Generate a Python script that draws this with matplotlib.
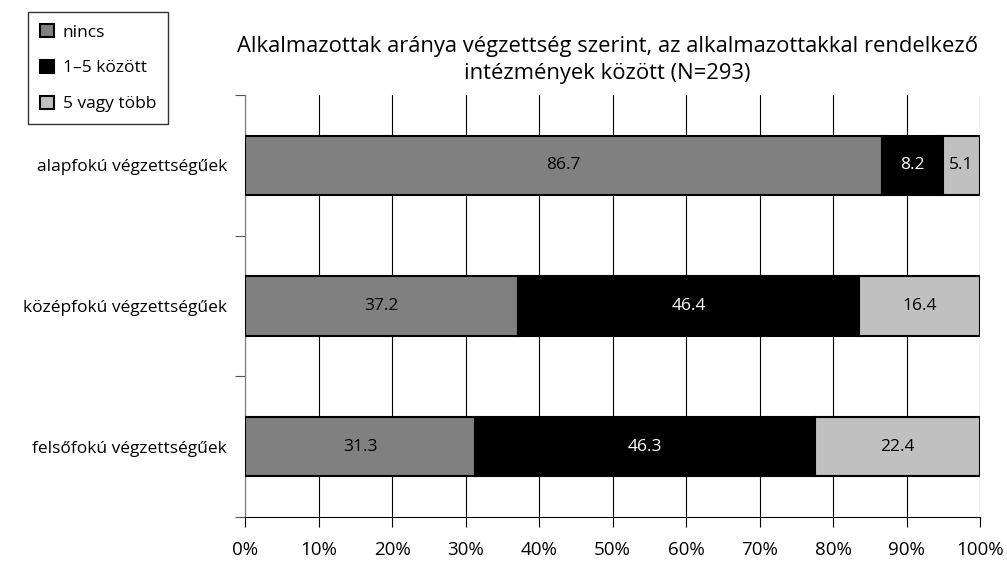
import numpy as np
import matplotlib.pyplot as plt
from matplotlib.patches import Patch

plt.rcParams['font.family'] = ['Open Sans', 'DejaVu Sans']

categories = ['alapfokú végzettségűek', 'középfokú végzettségűek', 'felsőfokú végzettségűek']
series_names = ['nincs', '1–5 között', '5 vagy több']
nincs = [86.7, 37.2, 31.3]
egy_ot = [8.2, 46.4, 46.3]
ot_tobb = [5.1, 16.4, 22.4]
xticklabels = ['0%', '10%', '20%', '30%', '40%', '50%', '60%', '70%', '80%', '90%', '100%']

colors = ['#808080', '#000000', '#c0c0c0']
text_colors = ['black', 'white', 'black']

fig = plt.figure(figsize=(10.07, 5.65), dpi=100)
ax = fig.add_axes([0.2433, 0.085, 0.7299, 0.7469])

y = np.arange(len(categories))
left = np.zeros(len(categories))
for vals, c, tc in zip([nincs, egy_ot, ot_tobb], colors, text_colors):
    bars = ax.barh(y, vals, left=left, height=0.42, color=c, edgecolor='black', linewidth=1.5, zorder=3)
    for b, v in zip(bars, vals):
        ax.text(b.get_x() + b.get_width() / 2, b.get_y() + b.get_height() / 2, f'{v:.1f}',
                ha='center', va='center', color=tc, fontsize=12.5, zorder=4)
    left += np.array(vals)

ax.set_xlim(0, 100)
ax.set_ylim(len(categories) - 0.5, -0.5)
ax.set_xticks(np.arange(0, 101, 10))
ax.set_xticklabels(xticklabels, fontsize=13.5)
ax.tick_params(axis='x', length=7, width=0.8, pad=10, direction='out')
ax.set_yticks(y)
ax.set_yticklabels(categories, fontsize=12.5)
ax.tick_params(axis='y', which='major', length=0, pad=13)
ax.set_yticks(np.arange(-0.5, len(categories), 1), minor=True)
ax.tick_params(axis='y', which='minor', length=7, width=0.8, color='#555555')
ax.grid(axis='x', color='black', linewidth=0.8, zorder=0)
for s in ['top', 'right']:
    ax.spines[s].set_visible(False)
ax.spines['left'].set_color('#777777')
ax.spines['left'].set_linewidth(0.8)
ax.spines['bottom'].set_linewidth(0.8)

fig.text(0.603, 0.894, 'Alkalmazottak aránya végzettség szerint, az alkalmazottakkal rendelkező\nintézmények között (N=293)',
         ha='center', va='center', fontsize=15.8, linespacing=1.4)

handles = [Patch(facecolor=c, edgecolor='black', linewidth=1.5) for c in colors]
leg = fig.legend(handles, series_names, loc='upper left', bbox_to_anchor=(0.028, 0.979),
                 fontsize=12.5, frameon=True, fancybox=False, edgecolor='black',
                 handlelength=0.8, handleheight=0.8, handletextpad=0.5, labelspacing=1.1,
                 borderpad=0.7, borderaxespad=0)
leg.get_frame().set_linewidth(1.0)

fig.savefig('out.png', dpi=100)
